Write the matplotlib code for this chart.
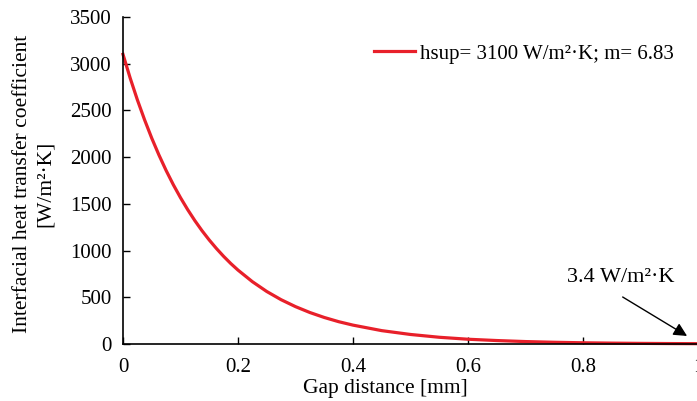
import matplotlib
matplotlib.use("Agg")
import matplotlib.pyplot as plt

# Data
gap_mm = [0, 0.0125, 0.025, 0.0375, 0.05, 0.0625, 0.075, 0.0875, 0.1, 0.1125,
          0.125, 0.1375, 0.15, 0.1625, 0.175, 0.1875, 0.2, 0.225, 0.25, 0.275,
          0.3, 0.325, 0.35, 0.375, 0.4, 0.45, 0.5, 0.55, 0.6, 0.65, 0.7, 0.75,
          0.8, 0.85, 0.9, 0.95, 1.0]
htc = [3100, 2846, 2613, 2400, 2203, 2023, 1857, 1705, 1566, 1438,
       1320, 1212, 1113, 1022, 938, 861, 791, 667, 562, 474,
       400, 337, 284, 239, 202, 143, 102, 72, 51, 37, 26, 18.5,
       13, 9.3, 6.6, 4.7, 3.4]

series_label = "hsup= 3100 W/m²·K; m= 6.83"
annot_text = "3.4 W/m²·K"
x_ticks = [0, 0.2, 0.4, 0.6, 0.8, 1]
x_ticklabels = ["0", "0.2", "0.4", "0.6", "0.8", "1"]
y_ticks = [0, 500, 1000, 1500, 2000, 2500, 3000, 3500]

plt.rcParams['font.family'] = ['Liberation Serif', 'DejaVu Serif']
plt.rcParams['font.size'] = 15

fig = plt.figure(figsize=(6.97, 4.01), dpi=100)
ax = fig.add_axes([123/697, 57/401, 575/697, 327/401])

ax.plot(gap_mm, htc, color='#E8202A', lw=2.3, label=series_label, clip_on=False)

ax.set_xlim(0, 1)
ax.set_ylim(0, 3500)
ax.set_xticks(x_ticks)
ax.set_xticklabels(x_ticklabels)
ax.set_yticks(y_ticks)
ax.tick_params(direction='in', length=5, width=1, colors='black', labelsize=15)
ax.tick_params(axis='x', pad=10)
ax.tick_params(axis='y', pad=8)

for s in ['top', 'right']:
    ax.spines[s].set_visible(False)
for s in ['left', 'bottom']:
    ax.spines[s].set_linewidth(1.2)

ax.set_xlabel("Gap distance [mm]", fontsize=15.5)
ax.xaxis.set_label_coords(0.456, -0.106)
ax.set_ylabel("Interfacial heat transfer coefficient\n[W/m²·K]", fontsize=15.5,
              linespacing=1.3)
ax.yaxis.set_label_coords(-0.118, 0.491)

leg = ax.legend(loc='center right', bbox_to_anchor=(0.958, 0.887), frameon=False,
                fontsize=15, handlelength=1.97, handletextpad=0.25,
                borderpad=0, borderaxespad=0)

ax.annotate("", xy=(0.981, 86), xytext=(0.869, 503),
            arrowprops=dict(arrowstyle='-|>', color='black', lw=1.0,
                            mutation_scale=20, shrinkA=0, shrinkB=0))
ax.text(0.865, 717, annot_text, ha='center', va='center', fontsize=16)

fig.savefig("out.png", dpi=100)
